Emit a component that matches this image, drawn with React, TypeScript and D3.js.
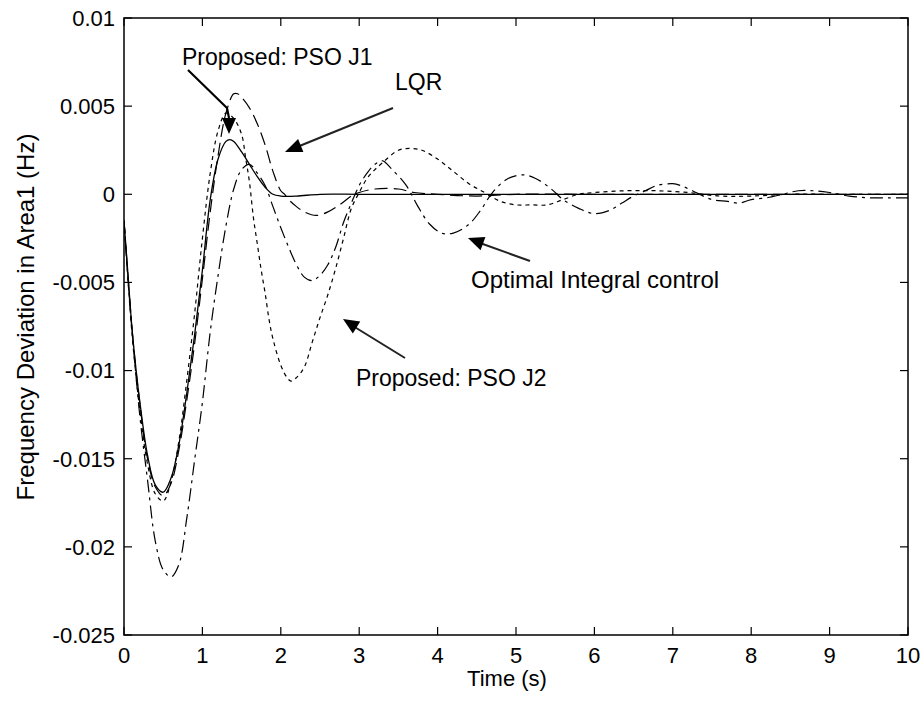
import React from "react";
import * as d3 from "d3";

// ---------- data ----------
const xTicks = [0, 1, 2, 3, 4, 5, 6, 7, 8, 9, 10];
const yTicks = [0.01, 0.005, 0, -0.005, -0.01, -0.015, -0.02, -0.025];
const yTickLabels = ["0.01", "0.005", "0", "-0.005", "-0.01", "-0.015", "-0.02", "-0.025"];

// Proposed: PSO J1 (solid)
const j1T = [0, 0.05, 0.1, 0.15, 0.2, 0.3, 0.4, 0.5, 0.6, 0.7, 0.8, 0.9, 1.0, 1.1, 1.2, 1.3, 1.35, 1.4, 1.5, 1.6, 1.7, 1.8, 1.9, 2.0, 2.2, 2.5, 3, 4, 5, 6, 7, 8, 9, 10];
const j1V = [-0.0015, -0.0045, -0.0075, -0.0098, -0.0117, -0.0148, -0.0165, -0.0169, -0.0161, -0.0142, -0.0113, -0.008, -0.0043, -0.0003, 0.002, 0.003, 0.0031, 0.003, 0.0024, 0.0017, 0.001, 0.0004, 0.0, -0.0001, -0.0001, 0, 0, 0, 0, 0, 0, 0, 0, 0];

// LQR (long dash)
const lqrT = [0, 0.1, 0.2, 0.3, 0.4, 0.5, 0.6, 0.7, 0.8, 0.9, 1.0, 1.1, 1.2, 1.3, 1.4, 1.45, 1.5, 1.6, 1.7, 1.8, 1.9, 2.0, 2.05, 2.1, 2.2, 2.3, 2.45, 2.6, 2.75, 2.9, 3.0, 3.2, 3.5, 3.7, 4.0, 4.5, 5, 6, 7, 8, 9, 10];
const lqrV = [-0.0015, -0.0076, -0.0118, -0.015, -0.0166, -0.0171, -0.0164, -0.0145, -0.0117, -0.0085, -0.0048, -0.001, 0.0022, 0.0046, 0.0057, 0.0057, 0.0055, 0.0049, 0.004, 0.0028, 0.0013, 0.0002, 0.0, -0.0003, -0.0007, -0.001, -0.0012, -0.001, -0.0006, -0.0001, 0.0001, 0.0003, 0.0003, 0.0001, 0, -0.0001, 0, 0, 0, 0, 0, 0];

// Optimal Integral control (dash-dot)
const oicT = [0, 0.1, 0.2, 0.3, 0.4, 0.5, 0.6, 0.7, 0.8, 0.9, 1.0, 1.1, 1.2, 1.3, 1.4, 1.5, 1.6, 1.7, 1.8, 1.9, 2.0, 2.1, 2.2, 2.3, 2.4, 2.5, 2.6, 2.7, 2.8, 2.9, 3.0, 3.1, 3.2, 3.3, 3.4, 3.6, 3.75, 3.9, 4.05, 4.2, 4.4, 4.55, 4.7, 4.9, 5.1, 5.25, 5.45, 5.6, 5.8, 6.0, 6.2, 6.35, 6.5, 6.65, 6.8, 7.0, 7.1, 7.25, 7.5, 7.7, 7.85, 8.0, 8.2, 8.4, 8.6, 8.8, 9.0, 9.25, 9.5, 9.75, 10];
const oicV = [-0.0015, -0.0075, -0.0125, -0.0162, -0.0197, -0.0213, -0.0217, -0.021, -0.0184, -0.0151, -0.0118, -0.0078, -0.0046, -0.0018, 0.0003, 0.0014, 0.0017, 0.0012, 0.0005, -0.0007, -0.0019, -0.003, -0.004, -0.0047, -0.0049, -0.0046, -0.004, -0.003, -0.0016, -0.0005, 0.0005, 0.0012, 0.0017, 0.0019, 0.0015, 0.0005, -0.0007, -0.0017, -0.0022, -0.0022, -0.0017, -0.0009, 0.0001, 0.0009, 0.0011, 0.0009, 0.0003, -0.0003, -0.0008, -0.0011, -0.0009, -0.0005, -0.0001, 0.0002, 0.0005, 0.0006, 0.0005, 0.0002, -0.0003, -0.0004, -0.0005, -0.0003, -0.0002, 0, 0.0002, 0.0002, 0.0001, -0.0001, -0.0002, -0.0002, -0.0002];

// Proposed: PSO J2 (dotted)
const j2T = [0, 0.1, 0.2, 0.3, 0.4, 0.5, 0.6, 0.7, 0.8, 0.9, 1.0, 1.1, 1.2, 1.3, 1.4, 1.5, 1.55, 1.6, 1.65, 1.7, 1.75, 1.8, 1.85, 1.9, 2.0, 2.08, 2.13, 2.2, 2.3, 2.4, 2.5, 2.6, 2.7, 2.8, 2.9, 3.0, 3.1, 3.2, 3.3, 3.5, 3.65, 3.8, 4.0, 4.2, 4.4, 4.6, 4.8, 5.0, 5.2, 5.4, 5.6, 5.8, 6.0, 6.4, 6.8, 7.2, 7.6, 8.0, 8.5, 9, 10];
const j2V = [-0.0015, -0.0078, -0.0122, -0.0153, -0.017, -0.0174, -0.0163, -0.014, -0.0106, -0.0068, -0.0025, 0.0012, 0.0036, 0.0046, 0.0043, 0.0034, 0.0021, 0.0007, -0.0013, -0.0028, -0.0043, -0.0056, -0.0071, -0.0082, -0.0097, -0.0104, -0.0106, -0.0104, -0.0098, -0.0084, -0.007, -0.0057, -0.0042, -0.0025, -0.0008, 0.0001, 0.0009, 0.0014, 0.0018, 0.0025, 0.0026, 0.0025, 0.002, 0.0013, 0.0006, 0.0001, -0.0004, -0.0006, -0.0006, -0.0006, -0.0003, 0.0, 0.0001, 0.0002, 0.0002, 0.0001, -0.0001, -0.0001, 0, 0, 0];

const seriesList = [
  { name: "Proposed: PSO J1", t: j1T, v: j1V, dash: "none", width: 1.3 },
  { name: "LQR", t: lqrT, v: lqrV, dash: "13,6", width: 1.2 },
  { name: "Optimal Integral control", t: oicT, v: oicV, dash: "13,5,3,5", width: 1.2 },
  { name: "Proposed: PSO J2", t: j2T, v: j2V, dash: "4,4", width: 1.2 },
];

// ---------- layout ----------
const W = 924;
const H = 706;
const left = 124;
const right = 908;
const top = 18;
const bottom = 635;
const FONT = "'Liberation Sans', Arial, sans-serif";
const FS = 22;
const FSA = 23;

export default function App() {
  const x = d3.scaleLinear().domain([0, 10]).range([left, right]);
  const y = d3.scaleLinear().domain([-0.025, 0.01]).range([bottom, top]);
  const line = d3
    .line<[number, number]>()
    .x((d) => x(d[0]))
    .y((d) => y(d[1]))
    .curve(d3.curveCatmullRom.alpha(0.5));

  const tick = 8;

  const arrowHead = (x1: number, y1: number, x2: number, y2: number, len: number, half: number) => {
    const dx = x2 - x1;
    const dy = y2 - y1;
    const L = Math.sqrt(dx * dx + dy * dy);
    const ux = dx / L;
    const uy = dy / L;
    const bx = x2 - ux * len;
    const by = y2 - uy * len;
    const px = -uy;
    const py = ux;
    return `M${x2},${y2}L${bx + px * half},${by + py * half}L${bx - px * half},${by - py * half}Z`;
  };

  return (
    <svg
      width={W}
      height={H}
      style={{ position: "absolute", left: 0, top: 0, background: "#fff" }}
      fontFamily={FONT}
    >
      <defs>
        <clipPath id="plotclip">
          <rect x={left} y={top} width={right - left} height={bottom - top} />
        </clipPath>
      </defs>
      <rect x={0} y={0} width={W} height={H} fill="#fff" />

      {/* curves */}
      <g clipPath="url(#plotclip)">
        {seriesList.map((s) => (
          <path
            key={s.name}
            d={line(s.t.map((t, i) => [t, s.v[i]] as [number, number])) || ""}
            fill="none"
            stroke="#000"
            strokeWidth={s.width}
            strokeDasharray={s.dash}
          />
        ))}
      </g>

      {/* frame */}
      <rect x={left} y={top} width={right - left} height={bottom - top} fill="none" stroke="#000" strokeWidth={1.5} />

      {/* x ticks */}
      {xTicks.map((t) => (
        <g key={"x" + t}>
          <line x1={x(t)} x2={x(t)} y1={bottom} y2={bottom - tick} stroke="#000" strokeWidth={1.2} />
          <line x1={x(t)} x2={x(t)} y1={top} y2={top + tick} stroke="#000" strokeWidth={1.2} />
          <text x={x(t)} y={663} textAnchor="middle" fontSize={FS} fill="#000">
            {t}
          </text>
        </g>
      ))}

      {/* y ticks */}
      {yTicks.map((v, i) => (
        <g key={"y" + i}>
          <line x1={left} x2={left + tick} y1={y(v)} y2={y(v)} stroke="#000" strokeWidth={1.2} />
          <line x1={right} x2={right - tick} y1={y(v)} y2={y(v)} stroke="#000" strokeWidth={1.2} />
          <text x={115} y={y(v)} dy="0.36em" textAnchor="end" fontSize={FS} fill="#000">
            {yTickLabels[i]}
          </text>
        </g>
      ))}

      {/* axis labels */}
      <text x={507} y={686} textAnchor="middle" fontSize={FS} fill="#000">
        Time (s)
      </text>
      <text transform="translate(34,317) rotate(-90)" textAnchor="middle" fontSize={24} fill="#000">
        Frequency Deviation in Area1 (Hz)
      </text>

      {/* annotations */}
      <text x={182} y={65} fontSize={FSA} fill="#000">Proposed: PSO J1</text>
      <polyline points="188,70 227,108 229,118" fill="none" stroke="#000" strokeWidth={2.2} />
      <path d={arrowHead(229, 110, 229, 134, 16, 7)} fill="#000" />

      <text x={395} y={90} fontSize={FSA} fill="#000">LQR</text>
      <line x1={393} y1={108} x2={297} y2={147} stroke="#222" strokeWidth={2} />
      <path d={arrowHead(393, 108, 285, 152, 17, 7)} fill="#000" />

      <text x={471} y={288} fontSize={24} fill="#000">Optimal Integral control</text>
      <line x1={530} y1={261} x2={480} y2={243} stroke="#222" strokeWidth={2} />
      <path d={arrowHead(530, 261, 468, 238, 16, 7)} fill="#000" />

      <text x={356} y={386} fontSize={FSA} fill="#000">Proposed: PSO J2</text>
      <line x1={405} y1={358} x2={353} y2={326} stroke="#222" strokeWidth={2} />
      <path d={arrowHead(405, 358, 343, 319, 16, 7)} fill="#000" />
    </svg>
  );
}
